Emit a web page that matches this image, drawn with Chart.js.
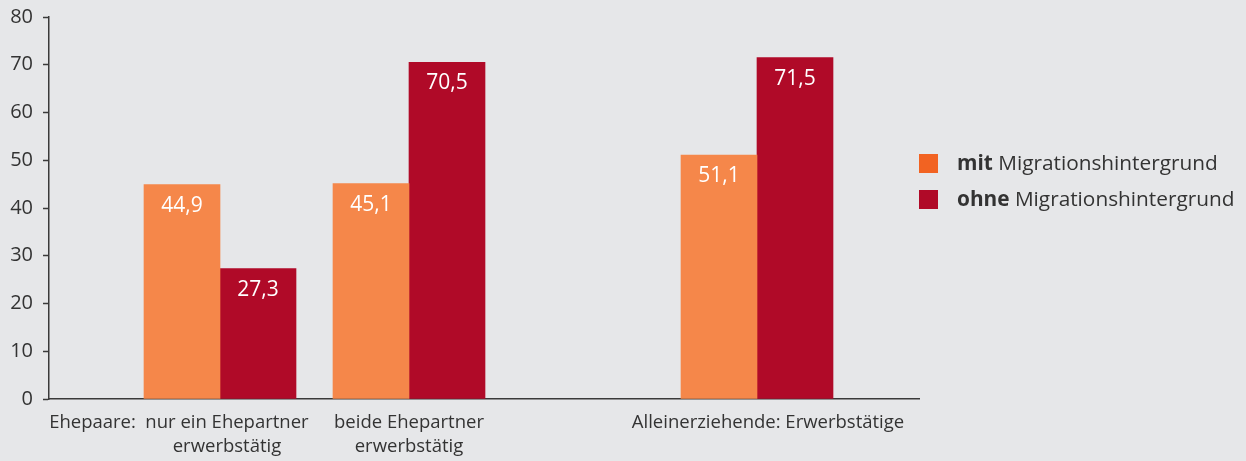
<!DOCTYPE html>
<html>
<head>
<meta charset="utf-8">
<script src="https://cdn.jsdelivr.net/npm/chart.js@4.4.1/dist/chart.umd.min.js"></script>
<style>
  html, body { margin: 0; padding: 0; background: #e6e7e9; }
  #wrap { position: relative; width: 1246px; height: 461px; }
</style>
</head>
<body>
<div id="wrap"><canvas id="chart" width="1246" height="461"></canvas></div>
<script>
// values (percent)
const groupLabels = [['nur ein Ehepartner', 'erwerbstätig'], ['beide Ehepartner', 'erwerbstätig'], ['Alleinerziehende: Erwerbstätige']];
const mitValues = [44.9, 45.1, 51.1];
const ohneValues = [27.3, 70.5, 71.5];
const seriesNames = ['mit', 'ohne'];
const yTicks = [0, 10, 20, 30, 40, 50, 60, 70, 80];

// where the groups and their labels sit along the x axis (axis units, 0..87)
const groupPos = [17.1, 36.0, 70.8];
const labelPos = [17.8, 36.0, 71.9];
const prefixLabel = 'Ehepaare:';
const prefixPos = 4.35;

const orange = '#f5874a';
const red = '#b00a28';
const legendColors = ['#f26322', '#b00a28'];
const textColor = '#333333';
const font = '"Open Sans", sans-serif';

const fmt = v => v.toFixed(1).replace('.', ',');

const valueLabels = {
    id: 'valueLabels',
    afterDatasetsDraw(chart) {
        const ctx = chart.ctx;
        ctx.save();
        ctx.fillStyle = '#ffffff';
        ctx.font = '21px ' + font;
        ctx.textAlign = 'center';
        ctx.textBaseline = 'middle';
        chart.data.datasets.forEach((ds, i) => {
            chart.getDatasetMeta(i).data.forEach((bar, j) => {
                ctx.fillText(fmt(ds.data[j].y), bar.x, bar.y + 21);
            });
        });
        ctx.restore();
    }
};

const legendPlugin = {
    id: 'sideLegend',
    afterDraw(chart) {
        const ctx = chart.ctx;
        ctx.save();
        ctx.textBaseline = 'middle';
        ctx.textAlign = 'left';
        seriesNames.forEach((name, i) => {
            const y = 164 + i * 36;
            ctx.fillStyle = legendColors[i];
            ctx.fillRect(919, y - 10, 19, 19);
            ctx.fillStyle = textColor;
            ctx.font = 'bold 20.8px ' + font;
            ctx.fillText(name, 957, y);
            const w = ctx.measureText(name + ' ').width;
            ctx.font = '20.8px ' + font;
            ctx.fillText('Migrationshintergrund', 957 + w, y);
        });
        ctx.restore();
    }
};

const config = {
    type: 'bar',
    data: {
        datasets: [{
            label: 'mit Migrationshintergrund',
            data: groupPos.map((x, i) => ({ x: x, y: mitValues[i] })),
            backgroundColor: orange,
            barThickness: 76
        }, {
            label: 'ohne Migrationshintergrund',
            data: groupPos.map((x, i) => ({ x: x, y: ohneValues[i] })),
            backgroundColor: red,
            barThickness: 76
        }]
    },
    options: {
        responsive: false,
        animation: false,
        layout: { padding: { top: 17, right: 327, bottom: 0, left: 0 } },
        plugins: {
            legend: { display: false },
            tooltip: { enabled: false }
        },
        scales: {
            x: {
                type: 'linear',
                min: 0,
                max: 87,
                offset: false,
                grid: { display: false, drawTicks: false },
                border: { color: '#3a3a3a', width: 1.5 },
                afterBuildTicks: scale => {
                    scale.ticks = [{ value: prefixPos }].concat(labelPos.map(v => ({ value: v })));
                },
                afterFit: scale => { scale.height = 62; },
                ticks: {
                    autoSkip: false,
                    maxRotation: 0,
                    padding: 11,
                    color: textColor,
                    font: { family: font, size: 18.5, lineHeight: 1.33 },
                    callback: (value, index) => index === 0 ? prefixLabel : groupLabels[index - 1]
                }
            },
            y: {
                min: 0,
                max: 80,
                afterBuildTicks: scale => {
                    scale.ticks = yTicks.map(v => ({ value: v }));
                },
                afterFit: scale => {
                    scale.width = 49;
                    scale.paddingTop = 0;
                    scale.paddingBottom = 0;
                },
                grid: { drawOnChartArea: false, tickLength: 6, tickColor: '#3a3a3a', tickWidth: 1.5 },
                border: { color: '#3a3a3a', width: 1.5 },
                ticks: {
                    padding: 10,
                    color: textColor,
                    font: { family: font, size: 20 }
                }
            }
        }
    },
    plugins: [valueLabels, legendPlugin]
};

new Chart(document.getElementById('chart'), config);
</script>
</body>
</html>
